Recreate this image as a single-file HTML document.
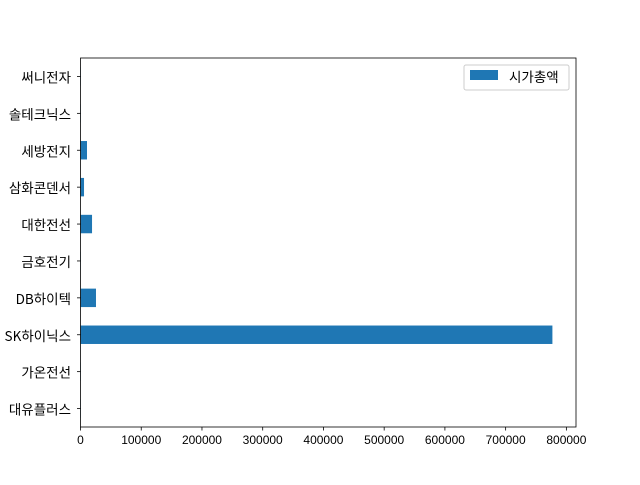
<!DOCTYPE html>
<html><head><meta charset="utf-8"><style>
body{margin:0;background:#fff}
svg text{font-family:"Liberation Sans","Noto Sans CJK KR",sans-serif;font-size:12px;fill:#000}
svg text.kr{font-family:"Noto Sans CJK KR",sans-serif;font-size:13.5px}
</style></head><body>
<svg id="c" width="640" height="480"></svg>
<script>
const categories=["대유플러스","가온전선","SK하이닉스","DB하이텍","금호전기","대한전선","삼화콘덴서","세방전지","솔테크닉스","써니전자"];
const values=[300,300,777000,25500,300,19000,5800,10700,300,300];
const xTicks=[0,100000,200000,300000,400000,500000,600000,700000,800000];
const svg=document.getElementById('c');
const NS='http://www.w3.org/2000/svg';
const L=80.5,R=576,T=58,B=427;
const xmax=Math.max(...values)*1.05;
const xs=v=>L+(v/xmax)*(R-L);
const step=(B-T)/categories.length;
const ys=i=>B-step*(i+0.5);
function mk(t,a){const e=document.createElementNS(NS,t);for(const k in a)e.setAttribute(k,a[k]);svg.appendChild(e);return e;}
values.forEach((v,i)=>{
 const r=mk('rect',{x:L,y:ys(i)-step*0.25,width:xs(v)-L,height:step*0.5,fill:'#1f77b4'});
 
 
});
categories.forEach((c,i)=>{
 mk('line',{x1:L-3.5,x2:L,y1:ys(i),y2:ys(i),stroke:'#000','stroke-width':0.8});
 const t=mk('text',{x:L-9.5,y:ys(i),'text-anchor':'end','dominant-baseline':'central','class':'kr'});t.textContent=c;
 
 
});
xTicks.forEach(v=>{
 mk('line',{x1:xs(v),x2:xs(v),y1:B,y2:B+3.5,stroke:'#000','stroke-width':0.8});
 const t=mk('text',{x:xs(v),y:B+17,'text-anchor':'middle'});t.textContent=v;
 
 
});
const f=mk('rect',{x:L,y:T,width:R-L,height:B-T,fill:'none',stroke:'#000','stroke-width':0.8});


const lg=mk('rect',{x:464,y:65,width:105,height:25,fill:'#fff',stroke:'#ccc',rx:2});


mk('rect',{x:470,y:70,width:28,height:10,fill:'#1f77b4'});
const lt=mk('text',{x:509,y:76,'dominant-baseline':'central','class':'kr'});lt.textContent='시가총액';


</script>
</body></html>
